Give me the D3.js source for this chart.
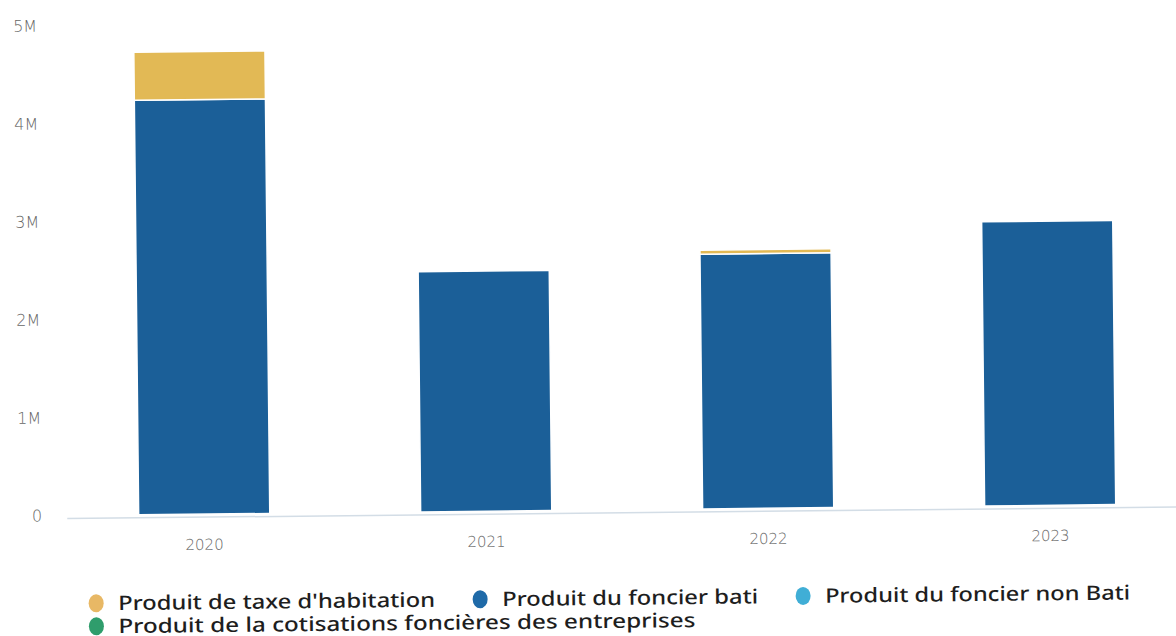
<!DOCTYPE html>
<html>
<head>
<meta charset="utf-8">
<script src="https://cdn.jsdelivr.net/npm/d3@7"></script>
<style>
    body { margin: 0; background: #fff; }
    svg { display: block; }
    .axis text { font-family: "DejaVu Sans", sans-serif; font-weight: 200; fill: #666; }
    .legend text { font-family: "Noto Sans", sans-serif; font-weight: 500; fill: #1e1e1e; }
</style>
</head>
<body>
<div id="chart"></div>
<script>
(function() {
    var width = 1176, height = 636;

    // data
    var years = ["2020", "2021", "2022", "2023"];
    var taxeHabitation = [490000, 0, 40000, 0];
    var foncierBati = [4230000, 2450000, 2600000, 2900000];
    var foncierNonBati = [0, 0, 0, 0];
    var cotisationsFoncieres = [0, 0, 0, 0];
    var yTicks = [0, 1000000, 2000000, 3000000, 4000000, 5000000];
    var tickLabels = ["0", "1M", "2M", "3M", "4M", "5M"];

    var seriesNames = ["Produit de taxe d'habitation", "Produit du foncier bati",
                       "Produit du foncier non Bati", "Produit de la cotisations foncières des entreprises"];
    var seriesColors = ["#e2b955", "#1b5f98", "#3aaed8", "#2e9a6b"];
    var legendMarkers = ["#e8b865", "#1f6aa8", "#40aed6", "#2f9d6c"];

    var rows = years.map(function(y, i) {
        return { year: y, th: taxeHabitation[i], bati: foncierBati[i], nonBati: foncierNonBati[i], cfe: cotisationsFoncieres[i] };
    });

    var keys = ["bati", "nonBati", "cfe", "th"];
    var colorOf = { th: seriesColors[0], bati: seriesColors[1], nonBati: seriesColors[2], cfe: seriesColors[3] };

    var xScale = d3.scaleBand()
        .domain(years)
        .range([61, 1189])
        .paddingInner(0.535)
        .paddingOuter(0.2675);

    var yScale = d3.scaleLinear()
        .domain([0, 5000000])
        .range([510, 20]);

    var svg = d3.select("#chart")
        .append("svg")
        .attr("width", width)
        .attr("height", height);

    // the reference is a slightly tilted scan
    var g = svg.append("g")
        .attr("transform", "rotate(-0.6, 600, 300)");

    // y axis labels
    var yAxis = g.append("g")
        .attr("class", "axis axis--y")
        .attr("transform", "translate(40,0)")
        .call(d3.axisLeft(yScale).tickValues(yTicks).tickSize(0).tickPadding(0)
            .tickFormat(function(d, i) { return tickLabels[i]; }));
    yAxis.select(".domain").remove();
    yAxis.selectAll("text").style("font-size", "16px");

    var stack = d3.stack().keys(keys);

    g.selectAll(".layer")
        .data(stack(rows))
        .enter()
        .append("g")
        .attr("class", "layer")
        .attr("fill", function(d) { return colorOf[d.key]; })
        .selectAll("rect")
        .data(function(d) { return d; })
        .enter()
        .append("rect")
        .attr("x", function(d) { return xScale(d.data.year); })
        .attr("width", xScale.bandwidth())
        .attr("y", function(d) { return yScale(d[1]); })
        .attr("height", function(d) { return Math.max(0, yScale(d[0]) - yScale(d[1])); })
        .attr("stroke", "#fff")
        .attr("stroke-width", function(d) { return d[1] - d[0] > 0 ? 1.5 : 0; });

    // baseline
    g.append("line")
        .attr("x1", 65)
        .attr("x2", 1190)
        .attr("y1", yScale(0) + 3)
        .attr("y2", yScale(0) + 3)
        .attr("stroke", "#d3dde6")
        .attr("stroke-width", 1.5);

    var xAxis = g.append("g")
        .attr("class", "axis axis--x")
        .attr("transform", "translate(0," + (yScale(0) + 3) + ")")
        .call(d3.axisBottom(xScale).tickSize(0).tickPadding(22));
    xAxis.select(".domain").remove();
    xAxis.selectAll("text").style("font-size", "15px");

    // legend
    var legendPos = [[93, 598], [477, 598], [800, 598], [93, 621]];
    var legendWidths = [317, 256, 305, 577];
    var legend = g.append("g").attr("class", "legend");
    var item = legend.selectAll(".item")
        .data(seriesNames)
        .enter()
        .append("g")
        .attr("class", "item")
        .attr("transform", function(d, i) { return "translate(" + legendPos[i][0] + "," + legendPos[i][1] + ")"; });

    item.append("ellipse")
        .attr("rx", 7.5)
        .attr("ry", 9)
        .attr("fill", function(d, i) { return legendMarkers[i]; });

    item.append("text")
        .attr("x", 22)
        .attr("dy", "0.35em")
        .attr("textLength", function(d, i) { return legendWidths[i]; })
        .attr("lengthAdjust", "spacingAndGlyphs")
        .style("font-size", "20px")
        .text(function(d) { return d; });
})();
</script>
</body>
</html>
